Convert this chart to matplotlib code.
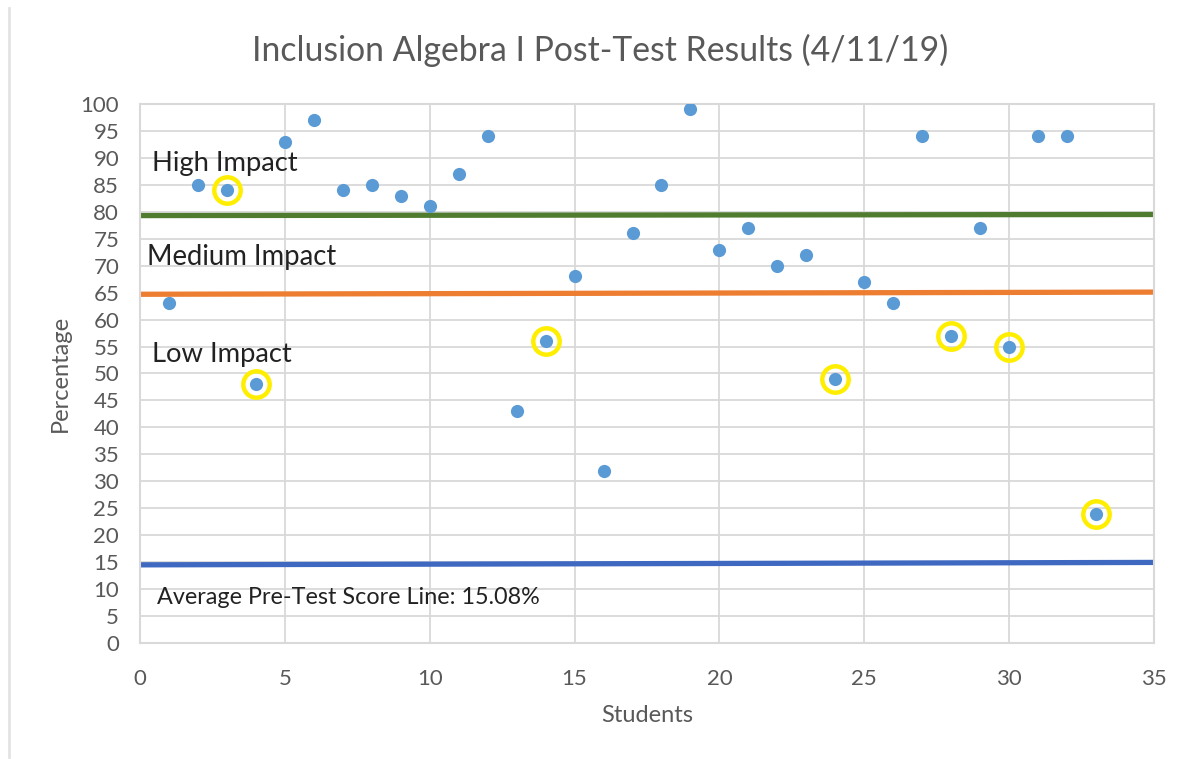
import matplotlib
matplotlib.use("Agg")
import matplotlib.pyplot as plt
from matplotlib.lines import Line2D

plt.rcParams['font.family'] = ['Lato', 'DejaVu Sans']

# student number and post-test percentage
students = list(range(1, 34))
scores = [63, 85, 84, 48, 93, 97, 84, 85, 83, 81,
          87, 94, 43, 56, 68, 32, 76, 85, 99, 73,
          77, 70, 72, 49, 67, 63, 94, 57, 77, 55,
          94, 94, 24]

# students circled in yellow
circled = [3, 4, 14, 24, 28, 30, 33]

# hand drawn threshold lines (level at x=0 and at x=35)
line_x = [0, 35]
high_line = [79.3, 79.5]
medium_line = [64.7, 65.1]
pretest_line = [14.5, 14.95]

gray = '#595959'
grid_gray = '#d9d9d9'

fig = plt.figure(figsize=(11.87, 7.59), dpi=100)
ax = fig.add_axes([140 / 1187, 1 - 643 / 759, 1014 / 1187, 539 / 759])

ax.set_xlim(0, 35)
ax.set_ylim(0, 100)
ax.set_xticks(range(0, 36, 5))
ax.set_yticks(range(0, 101, 5))
ax.grid(True, color=grid_gray, linewidth=1.3)
ax.set_axisbelow(True)
for s in ax.spines.values():
    s.set_color(grid_gray)
    s.set_linewidth(1.5)
ax.tick_params(length=0, labelsize=16, labelcolor=gray)
ax.tick_params(axis='y', pad=15)
ax.tick_params(axis='x', pad=19)

# threshold lines
ax.plot(line_x, high_line, color='#4f7c2f', linewidth=3.8, solid_capstyle='butt', zorder=2)
ax.plot(line_x, medium_line, color='#ed7d31', linewidth=3.8, solid_capstyle='butt', zorder=2)
ax.plot(line_x, pretest_line, color='#3f69c0', linewidth=3.8, solid_capstyle='butt', zorder=2)

# data points
ax.plot(students, scores, 'o', color='#5b9bd5', markersize=9.5, markeredgewidth=0, zorder=4)

# yellow rings
cx = [students[i - 1] for i in circled]
cy = [scores[i - 1] for i in circled]
ax.plot(cx, cy, 'o', markerfacecolor='none', markeredgecolor='#ffee00',
        markersize=19, markeredgewidth=3.2, zorder=3)

# region labels
ax.text(0.4, 89, 'High Impact', fontsize=19.7, color='#222222', va='center')
ax.text(0.25, 71.7, 'Medium Impact', fontsize=19.8, color='#222222', va='center')
ax.text(0.4, 53.6, 'Low Impact', fontsize=19.7, color='#222222', va='center')
ax.text(0.6, 8.5, 'Average Pre-Test Score Line: 15.08%', fontsize=16.8, color='#222222', va='center')

ax.set_xlabel('Students', fontsize=17, color=gray, labelpad=11)
ax.set_ylabel('Percentage', fontsize=17, color=gray, labelpad=7)

fig.text(0.506, 1 - 50 / 759, 'Inclusion Algebra I Post-Test Results (4/11/19)',
         fontsize=24.3, color=gray, ha='center', va='center')

# chart frame edge on the left
fig.add_artist(Line2D([9 / 1187, 9 / 1187], [1 - 757 / 759, 1 - 8 / 759],
                      color='#e3e3e3', linewidth=2, transform=fig.transFigure))

fig.savefig('out.png', dpi=100, facecolor='white')
